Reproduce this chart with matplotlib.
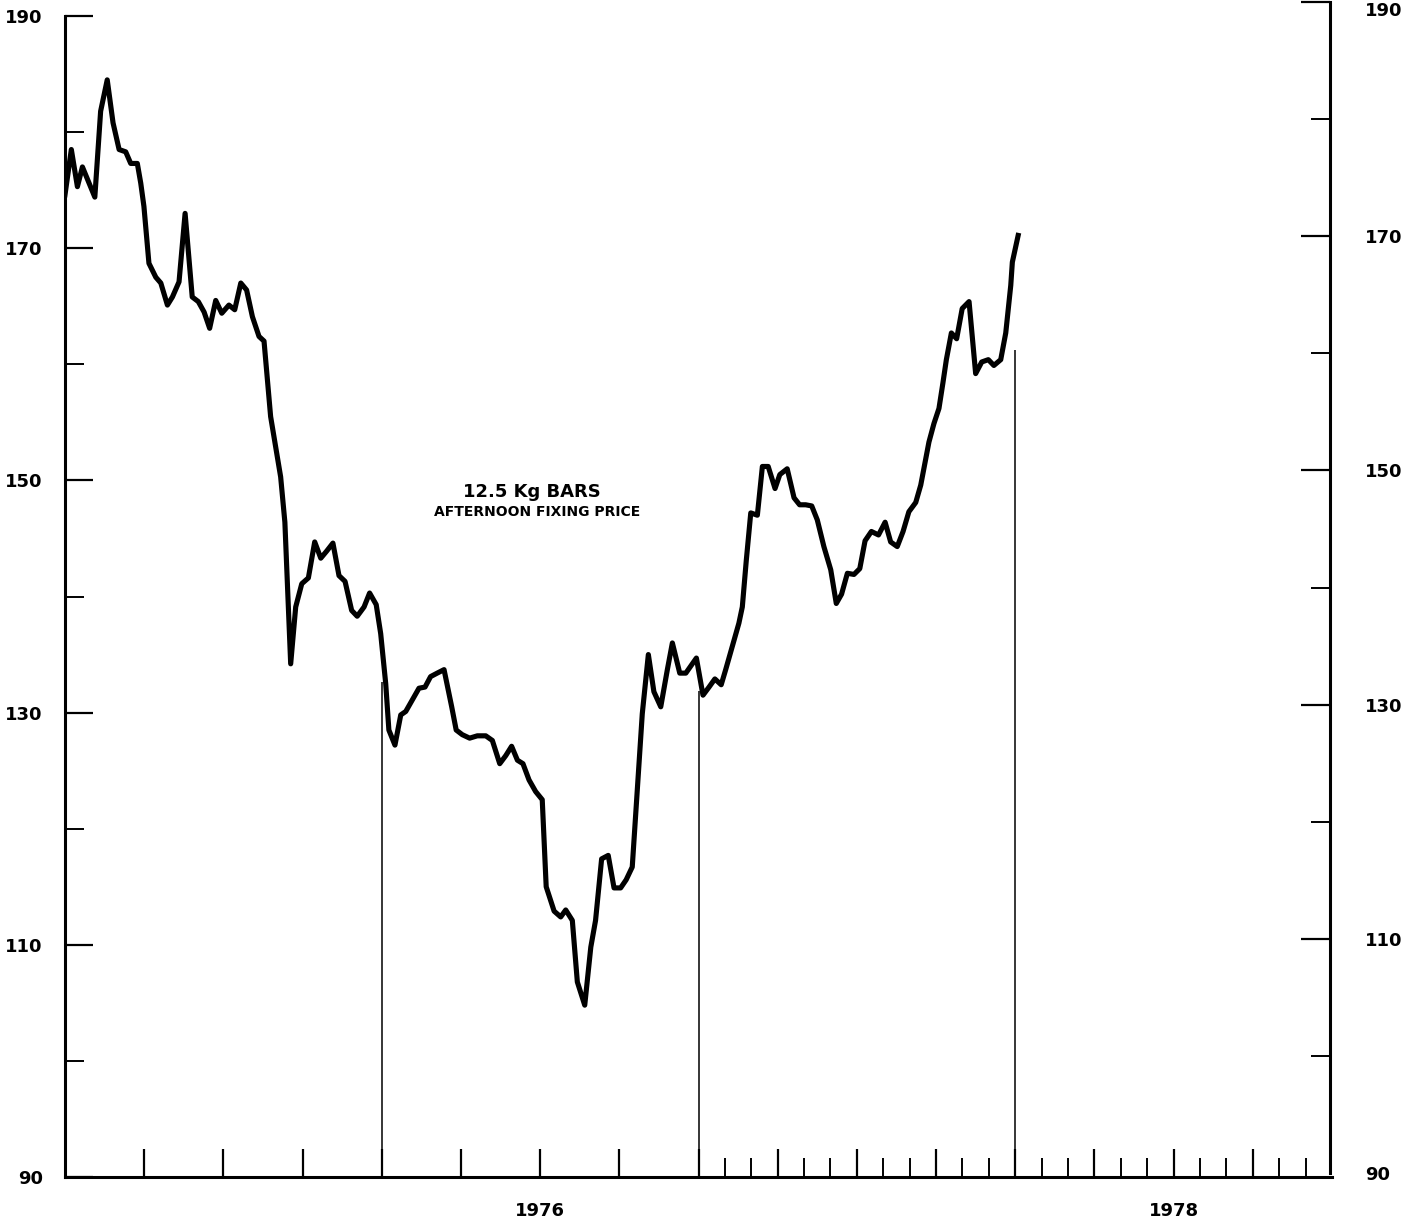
import matplotlib.pyplot as plt
import numpy as np

plt.rcParams['font.family'] = ['DejaVu Sans']

# weekly fixing, months counted from the start of 1975
months = [0.00, 0.24, 0.47, 0.66, 0.84, 1.13, 1.35, 1.60, 1.82, 2.05,
          2.30, 2.49, 2.74, 2.87, 2.99, 3.18, 3.44, 3.63, 3.88, 4.07,
          4.32, 4.55, 4.82, 5.05, 5.27, 5.48, 5.71, 5.94, 6.21, 6.43,
          6.66, 6.88, 7.10, 7.35, 7.54, 7.79, 7.98, 8.17, 8.33, 8.55,
          8.74, 8.97, 9.22, 9.46, 9.69, 9.91, 10.15, 10.38, 10.61, 10.86,
          11.07, 11.33, 11.54, 11.79, 11.96, 12.15, 12.27, 12.50, 12.72, 12.91,
          13.16, 13.41, 13.64, 13.85, 14.10, 14.36, 14.65, 14.82, 15.05, 15.33,
          15.62, 15.94, 16.19, 16.47, 16.70, 16.92, 17.14, 17.35, 17.58, 17.83,
          18.08, 18.23, 18.53, 18.78, 18.97, 19.22, 19.41, 19.69, 19.92, 20.10,
          20.33, 20.58, 20.80, 21.05, 21.26, 21.49, 21.68, 21.87, 22.10, 22.31,
          22.57, 22.82, 23.01, 23.29, 23.52, 23.92, 24.17, 24.40, 24.62, 24.86,
          25.03, 25.28, 25.53, 25.66, 25.81, 25.98, 26.23, 26.42, 26.64, 26.90,
          27.08, 27.36, 27.62, 27.83, 28.06, 28.29, 28.50, 28.75, 29.01, 29.22,
          29.42, 29.64, 29.89, 30.11, 30.31, 30.55, 30.82, 31.07, 31.28, 31.53,
          31.75, 31.97, 32.23, 32.42, 32.58, 32.73, 32.92, 33.11, 33.26, 33.39,
          33.58, 33.78, 33.99, 34.25, 34.50, 34.73, 34.98, 35.19, 35.45, 35.64,
          35.83, 35.89, 36.11]
price = [174.6, 178.5, 175.3, 177.0, 176.0, 174.4, 181.8, 184.5, 180.8, 178.5,
         178.3, 177.3, 177.3, 175.6, 173.6, 168.7, 167.5, 167.0, 165.1, 165.8,
         167.1, 173.0, 165.8, 165.4, 164.5, 163.1, 165.5, 164.4, 165.1, 164.7,
         167.0, 166.4, 164.1, 162.4, 162.0, 155.5, 152.9, 150.3, 146.4, 134.2,
         139.1, 141.1, 141.6, 144.7, 143.3, 143.9, 144.6, 141.8, 141.3, 138.8,
         138.3, 139.1, 140.3, 139.3, 136.8, 132.5, 128.5, 127.2, 129.8, 130.1,
         131.1, 132.1, 132.2, 133.1, 133.4, 133.7, 130.5, 128.5, 128.1, 127.8,
         128.0, 128.0, 127.6, 125.6, 126.3, 127.1, 125.9, 125.6, 124.2, 123.2,
         122.5, 115.0, 112.9, 112.4, 113.0, 112.1, 106.8, 104.8, 109.8, 112.1,
         117.4, 117.7, 114.9, 114.9, 115.6, 116.7, 123.3, 129.9, 135.0, 131.8,
         130.5, 133.7, 136.0, 133.4, 133.4, 134.7, 131.5, 132.2, 132.9, 132.4,
         133.7, 135.7, 137.7, 139.1, 143.1, 147.2, 147.0, 151.2, 151.2, 149.3,
         150.5, 151.0, 148.5, 147.9, 147.9, 147.8, 146.6, 144.3, 142.3, 139.4,
         140.2, 142.0, 141.9, 142.4, 144.8, 145.6, 145.3, 146.4, 144.7, 144.3,
         145.6, 147.3, 148.1, 149.6, 151.5, 153.3, 154.9, 156.2, 158.4, 160.4,
         162.7, 162.2, 164.8, 165.4, 159.2, 160.2, 160.4, 159.9, 160.4, 162.7,
         166.8, 168.8, 171.1]

# thin year dividers and how high they reach
year_lines = [1976, 1977, 1978]
year_line_tops = [132.6, 131.9, 161.2]

year_labels = ['1976', '1978']
year_label_pos = [1976.5, 1978.5]

left_labels = ['90', '110', '130', '150', '170', '190']

fig = plt.figure(figsize=(14.04, 12.22), dpi=100)
x0 = 65 / 1404
w = (1332 - 65) / 1404
ax = fig.add_axes([x0, 45 / 1222, w, 1161 / 1222])

t = 1975 + np.array(months) / 12.0
ax.plot(t, price, color='black', lw=3.7, solid_joinstyle='round')
ax.vlines(year_lines, 90, year_line_tops, color='black', lw=1.1)

ax.set_xlim(1975, 1979)
ax.set_ylim(90, 190)
for s in ['top', 'right']:
    ax.spines[s].set_visible(False)
for s in ['left', 'bottom']:
    ax.spines[s].set_linewidth(2.2)

ax.set_yticks(range(90, 191, 20))
ax.set_yticklabels(left_labels)
ax.set_yticks(range(100, 190, 20), minor=True)
ax.tick_params(axis='y', which='major', direction='in', length=20, width=1.6,
               pad=16, labelsize=13)
ax.tick_params(axis='y', which='minor', direction='in', length=13.5, width=1.4)
for lab in ax.get_yticklabels():
    lab.set_fontweight('bold')

quarters = [1975 + q / 4 for q in range(1, 16)]
month_ticks = [1977 + m / 12 for m in range(1, 24) if m % 3 != 0]
ax.set_xticks(quarters)
ax.set_xticklabels([])
ax.set_xticks(month_ticks, minor=True)
ax.tick_params(axis='x', which='major', direction='in', length=20, width=1.6)
ax.tick_params(axis='x', which='minor', direction='in', length=13.5, width=1.4)

for lab, xp in zip(year_labels, year_label_pos):
    ax.text(xp, -0.029, lab, transform=ax.get_xaxis_transform(), ha='center',
            va='center', fontsize=13, fontweight='bold')

ax.text(1976.474, 149.0, '12.5 Kg BARS', ha='center', va='center',
        fontsize=13, fontweight='bold')
ax.text(1976.49, 147.25, 'AFTERNOON FIXING PRICE', ha='center', va='center',
        fontsize=10, fontweight='bold')

# right hand scale sits slightly higher than the left one
ax2 = fig.add_axes([x0, 49 / 1222, (1330 - 65) / 1404, 1171 / 1222])
ax2.patch.set_visible(False)
for s in ['top', 'left', 'bottom']:
    ax2.spines[s].set_visible(False)
ax2.spines['right'].set_linewidth(2.2)
ax2.set_ylim(90, 190)
ax2.set_xticks([])
ax2.yaxis.tick_right()
ax2.set_yticks(range(90, 191, 20))
ax2.set_yticklabels(left_labels)
ax2.set_yticks(range(100, 190, 20), minor=True)
ax2.tick_params(axis='y', which='major', direction='in', length=21, width=1.6,
                pad=25, labelsize=13)
ax2.tick_params(axis='y', which='minor', direction='in', length=13.5, width=1.4)
ax2.yaxis.get_major_ticks()[0].tick2line.set_visible(False)
r_labels = ax2.get_yticklabels()
for lab in r_labels:
    lab.set_fontweight('bold')
r_labels[-1].set_va('top')

fig.savefig('out.png', dpi=100)
